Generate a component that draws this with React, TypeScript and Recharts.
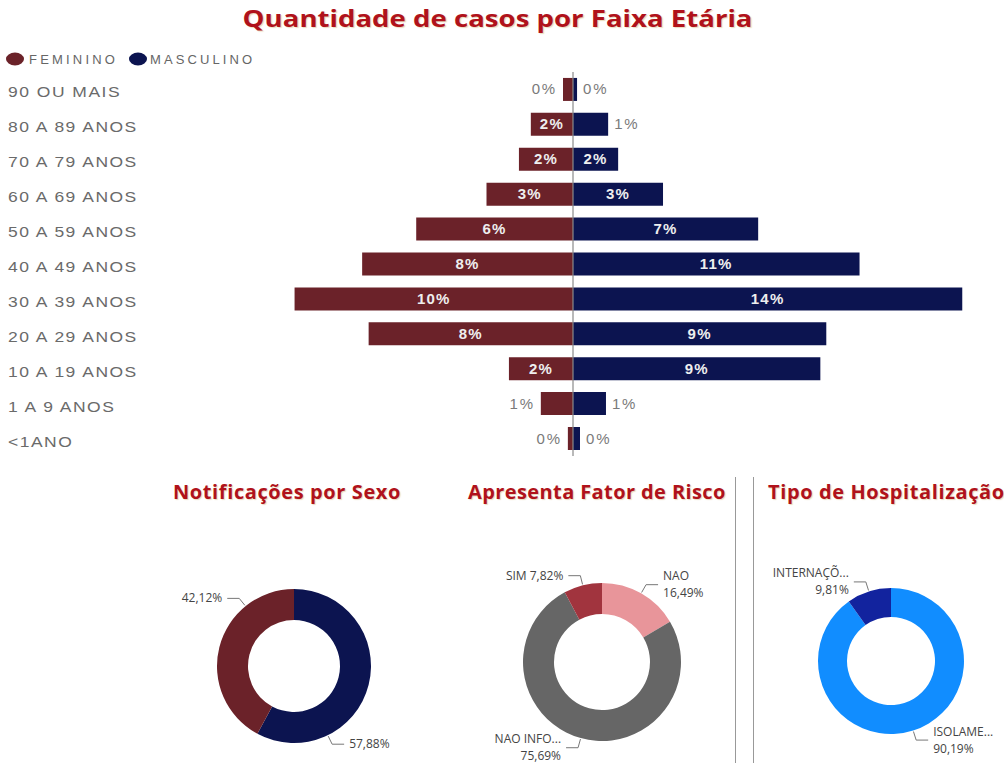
import React from "react";
import {
  BarChart,
  Bar,
  XAxis,
  YAxis,
  ReferenceLine,
  LabelList,
  PieChart,
  Pie,
  Cell,
} from "recharts";

// pirâmide etária (% do total de casos)
const faixas = [
  "90 OU MAIS",
  "80 A 89 ANOS",
  "70 A 79 ANOS",
  "60 A 69 ANOS",
  "50 A 59 ANOS",
  "40 A 49 ANOS",
  "30 A 39 ANOS",
  "20 A 29 ANOS",
  "10 A 19 ANOS",
  "1 A 9 ANOS",
  "<1ANO",
];
const feminino = [0.37, 1.56, 2.0, 3.2, 5.8, 7.8, 10.3, 7.56, 2.37, 1.19, 0.19];
const masculino = [0.15, 1.3, 1.67, 3.33, 6.85, 10.6, 14.4, 9.37, 9.15, 1.22, 0.26];

const sexoNomes = ["MASCULINO", "FEMININO"];
const sexoValores = [57.88, 42.12];

const riscoNomes = ["NAO", "NAO INFO...", "SIM"];
const riscoValores = [16.49, 75.69, 7.82];

const hospNomes = ["ISOLAME...", "INTERNAÇÕ..."];
const hospValores = [90.19, 9.81];

const COR_FEM = "#6b2229";
const COR_MASC = "#0c1450";
const COR_TITULO = "#b0121b";
const FONTE = "'Open Sans', 'DejaVu Sans', sans-serif";
const FONTE_EIXO = "'Liberation Sans', Arial, sans-serif";

const piramide = faixas.map((f, i) => ({
  faixa: f,
  fem: -feminino[i],
  masc: masculino[i],
}));

const toRows = (nomes: string[], valores: number[]) =>
  nomes.map((n, i) => ({ name: n, value: valores[i] }));

const fmtPct = (v: number) => v.toFixed(2).replace(".", ",") + "%";

function AgeTick(props: any) {
  const { y, payload } = props;
  return (
    <text
      transform={`translate(8, ${y + 8}) scale(1.25, 1)`}
      textAnchor="start"
      fontFamily={FONTE_EIXO}
      fontSize={14}
      letterSpacing={1.2}
      fill="#6a6a6a"
    >
      {payload.value}
    </text>
  );
}

function barLabel(lado: "fem" | "masc") {
  return (props: any) => {
    const vb = props.viewBox || props;
    const x = Number(vb.x);
    const w = Number(vb.width);
    const y = Number(vb.y);
    const h = Number(vb.height);
    const left = Math.min(x, x + w);
    const width = Math.abs(w);
    const txt = `${Math.round(Math.abs(Number(props.value)))}%`;
    const cy = y + h / 2;
    if (width >= 40) {
      return (
        <text
          x={left + width / 2}
          y={cy}
          dy={5}
          textAnchor="middle"
          fontFamily={FONTE_EIXO}
          fontSize={15}
          fontWeight="bold"
          letterSpacing={1.2}
          fill="#eeeeee"
        >
          {txt}
        </text>
      );
    }
    return (
      <text
        x={lado === "fem" ? left - 6 : left + width + 6}
        y={cy}
        dy={5}
        textAnchor={lado === "fem" ? "end" : "start"}
        fontFamily={FONTE_EIXO}
        fontSize={15}
        letterSpacing={1.8}
        fill="#7a7a7a"
      >
        {txt}
      </text>
    );
  };
}

const RADIAN = Math.PI / 180;

function donutLabel(inline: string[], soValor: boolean, angulos?: Record<string, number>) {
  return (props: any) => {
    const { cx, cy, outerRadius, midAngle, name, value } = props;
    const ang = angulos && angulos[name] !== undefined ? angulos[name] : midAngle;
    const cos = Math.cos(-ang * RADIAN);
    const sin = Math.sin(-ang * RADIAN);
    const x1 = cx + (outerRadius + 1) * cos;
    const y1 = cy + (outerRadius + 1) * sin;
    const x2 = cx + (outerRadius + 10) * cos;
    const y2 = cy + (outerRadius + 10) * sin;
    const dir = cos >= 0 ? 1 : -1;
    const x3 = x2 + dir * 12;
    const tx = x3 + dir * 5;
    const anchor = dir > 0 ? "start" : "end";
    let linhas: string[];
    if (soValor) linhas = [fmtPct(value)];
    else if (inline.includes(name)) linhas = [`${name}  ${fmtPct(value)}`];
    else linhas = [name, fmtPct(value)];
    const lh = 17;
    const y0 = y2 - ((linhas.length - 1) * lh) / 2;
    return (
      <g>
        <polyline
          points={`${x1},${y1} ${x2},${y2} ${x3},${y2}`}
          fill="none"
          stroke="#777"
          strokeWidth={1}
        />
        {linhas.map((l, i) => (
          <text
            key={i}
            x={tx}
            y={y0 + i * lh}
            dy={4}
            textAnchor={anchor}
            fontFamily={FONTE}
            fontSize={12}
            fill="#444"
          >
            {l}
          </text>
        ))}
      </g>
    );
  };
}

function Donut(props: {
  left: number;
  top: number;
  raio: number;
  interno: number;
  dados: { name: string; value: number }[];
  cores: string[];
  inline?: string[];
  soValor?: boolean;
  angulos?: Record<string, number>;
}) {
  const W = 300;
  const H = 260;
  return (
    <div style={{ position: "absolute", left: props.left - W / 2, top: props.top - H / 2 }}>
      <PieChart width={W} height={H} style={{ overflow: "visible" }}>
        <Pie
          data={props.dados}
          dataKey="value"
          nameKey="name"
          cx={W / 2}
          cy={H / 2}
          innerRadius={props.interno}
          outerRadius={props.raio}
          startAngle={90}
          endAngle={-270}
          stroke="none"
          isAnimationActive={false}
          labelLine={false}
          label={donutLabel(props.inline || [], !!props.soValor, props.angulos)}
        >
          {props.dados.map((d, i) => (
            <Cell key={d.name} fill={props.cores[i]} />
          ))}
        </Pie>
      </PieChart>
    </div>
  );
}

const tituloStyle: React.CSSProperties = {
  position: "absolute",
  fontFamily: FONTE,
  fontWeight: 700,
  color: COR_TITULO,
  whiteSpace: "nowrap",
  textShadow: "1px 1px 1px rgba(190,150,60,0.35)",
};

const subTitulo: React.CSSProperties = {
  ...tituloStyle,
  top: 479,
  fontSize: 20,
  lineHeight: "26px",
  letterSpacing: 0.6,
};

export default function App() {
  return (
    <div
      style={{
        position: "absolute",
        left: 0,
        top: 0,
        width: 1004,
        height: 763,
        overflow: "hidden",
        background: "#ffffff",
      }}
    >
      <div
        style={{
          ...tituloStyle,
          left: 0,
          width: 995,
          top: 3,
          textAlign: "center",
          fontSize: 23,
          lineHeight: "30px",
          transform: "scaleX(1.2)",
          transformOrigin: "497px 0",
        }}
      >
        Quantidade de casos por Faixa Etária
      </div>

      <svg
        width={280}
        height={20}
        style={{ position: "absolute", left: 0, top: 49 }}
      >
        <ellipse cx={15} cy={10} rx={9} ry={6.5} fill={COR_FEM} />
        <text x={29} y={15} fontFamily={FONTE_EIXO} fontSize={13} letterSpacing={3.2} fill="#666">
          FEMININO
        </text>
        <ellipse cx={138} cy={10} rx={9} ry={6.5} fill={COR_MASC} />
        <text x={150} y={15} fontFamily={FONTE_EIXO} fontSize={13} letterSpacing={3.1} fill="#666">
          MASCULINO
        </text>
      </svg>

      <div style={{ position: "absolute", left: 0, top: 0 }}>
        <BarChart
          width={1004}
          height={460}
          data={piramide}
          layout="vertical"
          stackOffset="sign"
          barCategoryGap="17%"
          margin={{ top: 72, right: 12, bottom: 4, left: 0 }}
        >
          <XAxis type="number" domain={[-15.5, 15.5]} hide />
          <YAxis
            type="category"
            dataKey="faixa"
            width={154}
            axisLine={false}
            tickLine={false}
            tick={<AgeTick />}
            interval={0}
          />
          <Bar dataKey="fem" stackId="s" fill={COR_FEM} isAnimationActive={false}>
            <LabelList dataKey="fem" content={barLabel("fem")} />
          </Bar>
          <Bar dataKey="masc" stackId="s" fill={COR_MASC} isAnimationActive={false}>
            <LabelList dataKey="masc" content={barLabel("masc")} />
          </Bar>
          <ReferenceLine x={0} stroke="#8a8a8a" strokeWidth={1.2} />
        </BarChart>
      </div>

      <div style={{ ...subTitulo, left: 173 }}>Notificações por Sexo</div>
      <div style={{ ...subTitulo, left: 468, letterSpacing: 0.4 }}>Apresenta Fator de Risco</div>
      <div style={{ ...subTitulo, left: 768 }}>Tipo de Hospitalização</div>

      <div style={{ position: "absolute", left: 735, top: 477, width: 1, height: 290, background: "#999" }} />
      <div style={{ position: "absolute", left: 753, top: 477, width: 1, height: 290, background: "#999" }} />

      <Donut
        left={289}
        top={661}
        raio={77}
        interno={46}
        dados={toRows(sexoNomes, sexoValores)}
        cores={[COR_MASC, COR_FEM]}
        soValor
        angulos={{ MASCULINO: -64, FEMININO: 129 }}
      />
      <Donut
        left={597}
        top={657}
        raio={79}
        interno={48}
        dados={toRows(riscoNomes, riscoValores)}
        cores={["#e8959a", "#666666", "#a1343e"]}
        inline={["SIM"]}
      />
      <Donut
        left={886}
        top={656}
        raio={73}
        interno={44}
        dados={toRows(hospNomes, hospValores)}
        cores={["#118dff", "#12239e"]}
      />
    </div>
  );
}
